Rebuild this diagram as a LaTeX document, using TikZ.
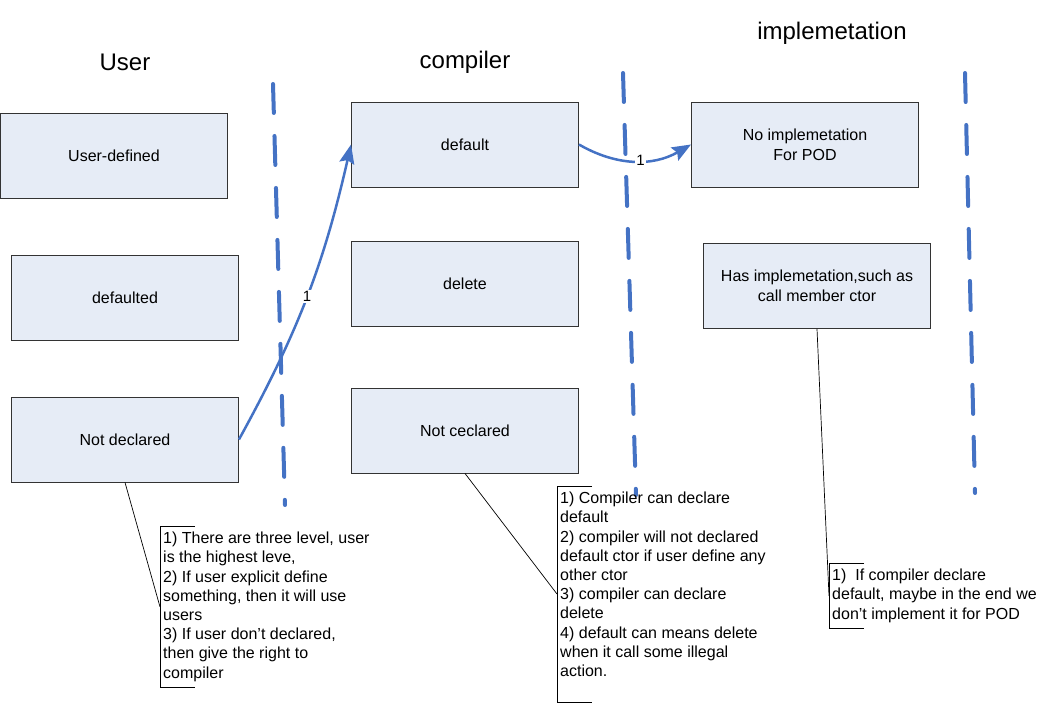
\documentclass[tikz,border=0pt]{standalone}
\usepackage{fontspec}
\setmainfont{Liberation Sans}
\usetikzlibrary{arrows.meta,positioning}
\definecolor{boxfill}{RGB}{230,236,246}
\definecolor{lineblue}{RGB}{68,114,196}

\begin{document}
\begin{tikzpicture}[x=1pt,y=-1pt,
  box/.style={draw=black!80, line width=0.9pt, fill=boxfill, minimum width=227pt, minimum height=85pt, align=center, font=\fontsize{16}{20}\selectfont},
  title/.style={font=\fontsize{24}{24}\selectfont},
  note/.style={anchor=north west, align=left, inner xsep=3pt, inner ysep=6pt, font=\fontsize{16}{19.2}\selectfont},
  lane/.style={lineblue, line width=4pt, dash pattern=on 29pt off 23pt, line cap=round},
  flow/.style={lineblue, line width=2.5pt, -{Stealth[length=19pt,width=15pt,inset=3pt]}},
  num/.style={fill=white, text=black, inner sep=1pt, font=\fontsize{15}{15}\selectfont},
  callout/.style={black, line width=0.7pt}
]
  \useasboundingbox (0,0) rectangle (1042,706);

  % Column titles
  \node[title] (tuser) at (125,62) {User};
  \node[title] (tcomp) at (465,62) {compiler};
  \node[title] (timpl) at (832,33) {implemetation};

  % Dashed lane separators
  \foreach \xa/\ya/\xb/\yb in {273/84/285/505, 623/73/636/495, 965/73/975/493} {
    \draw[lane] (\xa,\ya) -- (\xb,\yb);
  }

  % User column
  \node[box] (udef) at (114,156) {User-defined};
  \node[box] (dfd) at (125,298) {defaulted};
  \node[box] (ndecl) at (125,439.5) {Not declared};

  % Compiler column
  \node[box] (cdef) at (465,144.5) {default};
  \node[box] (cdel) at (465,284) {delete};
  \node[box] (cnot) at (465,430.5) {Not ceclared};

  % Implementation column
  \node[box] (inone) at (805,144.5) {No implemetation\\For POD};
  \node[box] (ihas) at (817,286) {Has implemetation,such as\\call member ctor};

  % Flow arrows
  \draw[flow] (ndecl.east) to[bend right=8] node[num] {1} (cdef.west);
  \draw[flow] (cdef.east) to[bend right=30] node[num, pos=0.55] {1} (inone.west);

  % Notes
  \node[note] (n1) at (160,526) {1) There are three level, user\\is the highest leve,\\2) If user explicit define\\something, then it will use\\users\\3) If user don’t declared,\\then give the right to\\compiler};
  \node[note] (n2) at (557,486) {1) Compiler can declare\\default\\2) compiler will not declared\\default ctor if user define any\\other ctor\\3) compiler can declare\\delete\\4) default can means delete\\when it call some illegal\\action.\\\mbox{}};
  \node[note] (n3) at (829,563) {1)~ If compiler declare\\default, maybe in the end we\\don’t implement it for POD};

  % Note brackets and callout lines
  \foreach \n in {n1,n2,n3} {
    \draw[callout] ([xshift=35pt]\n.north west) -- (\n.north west) -- (\n.south west) -- ([xshift=35pt]\n.south west);
  }
  \draw[callout] (ndecl.south) -- (n1.west);
  \draw[callout] (cnot.south) -- (n2.west);
  \draw[callout] (ihas.south) -- (n3.west);
\end{tikzpicture}
\end{document}
